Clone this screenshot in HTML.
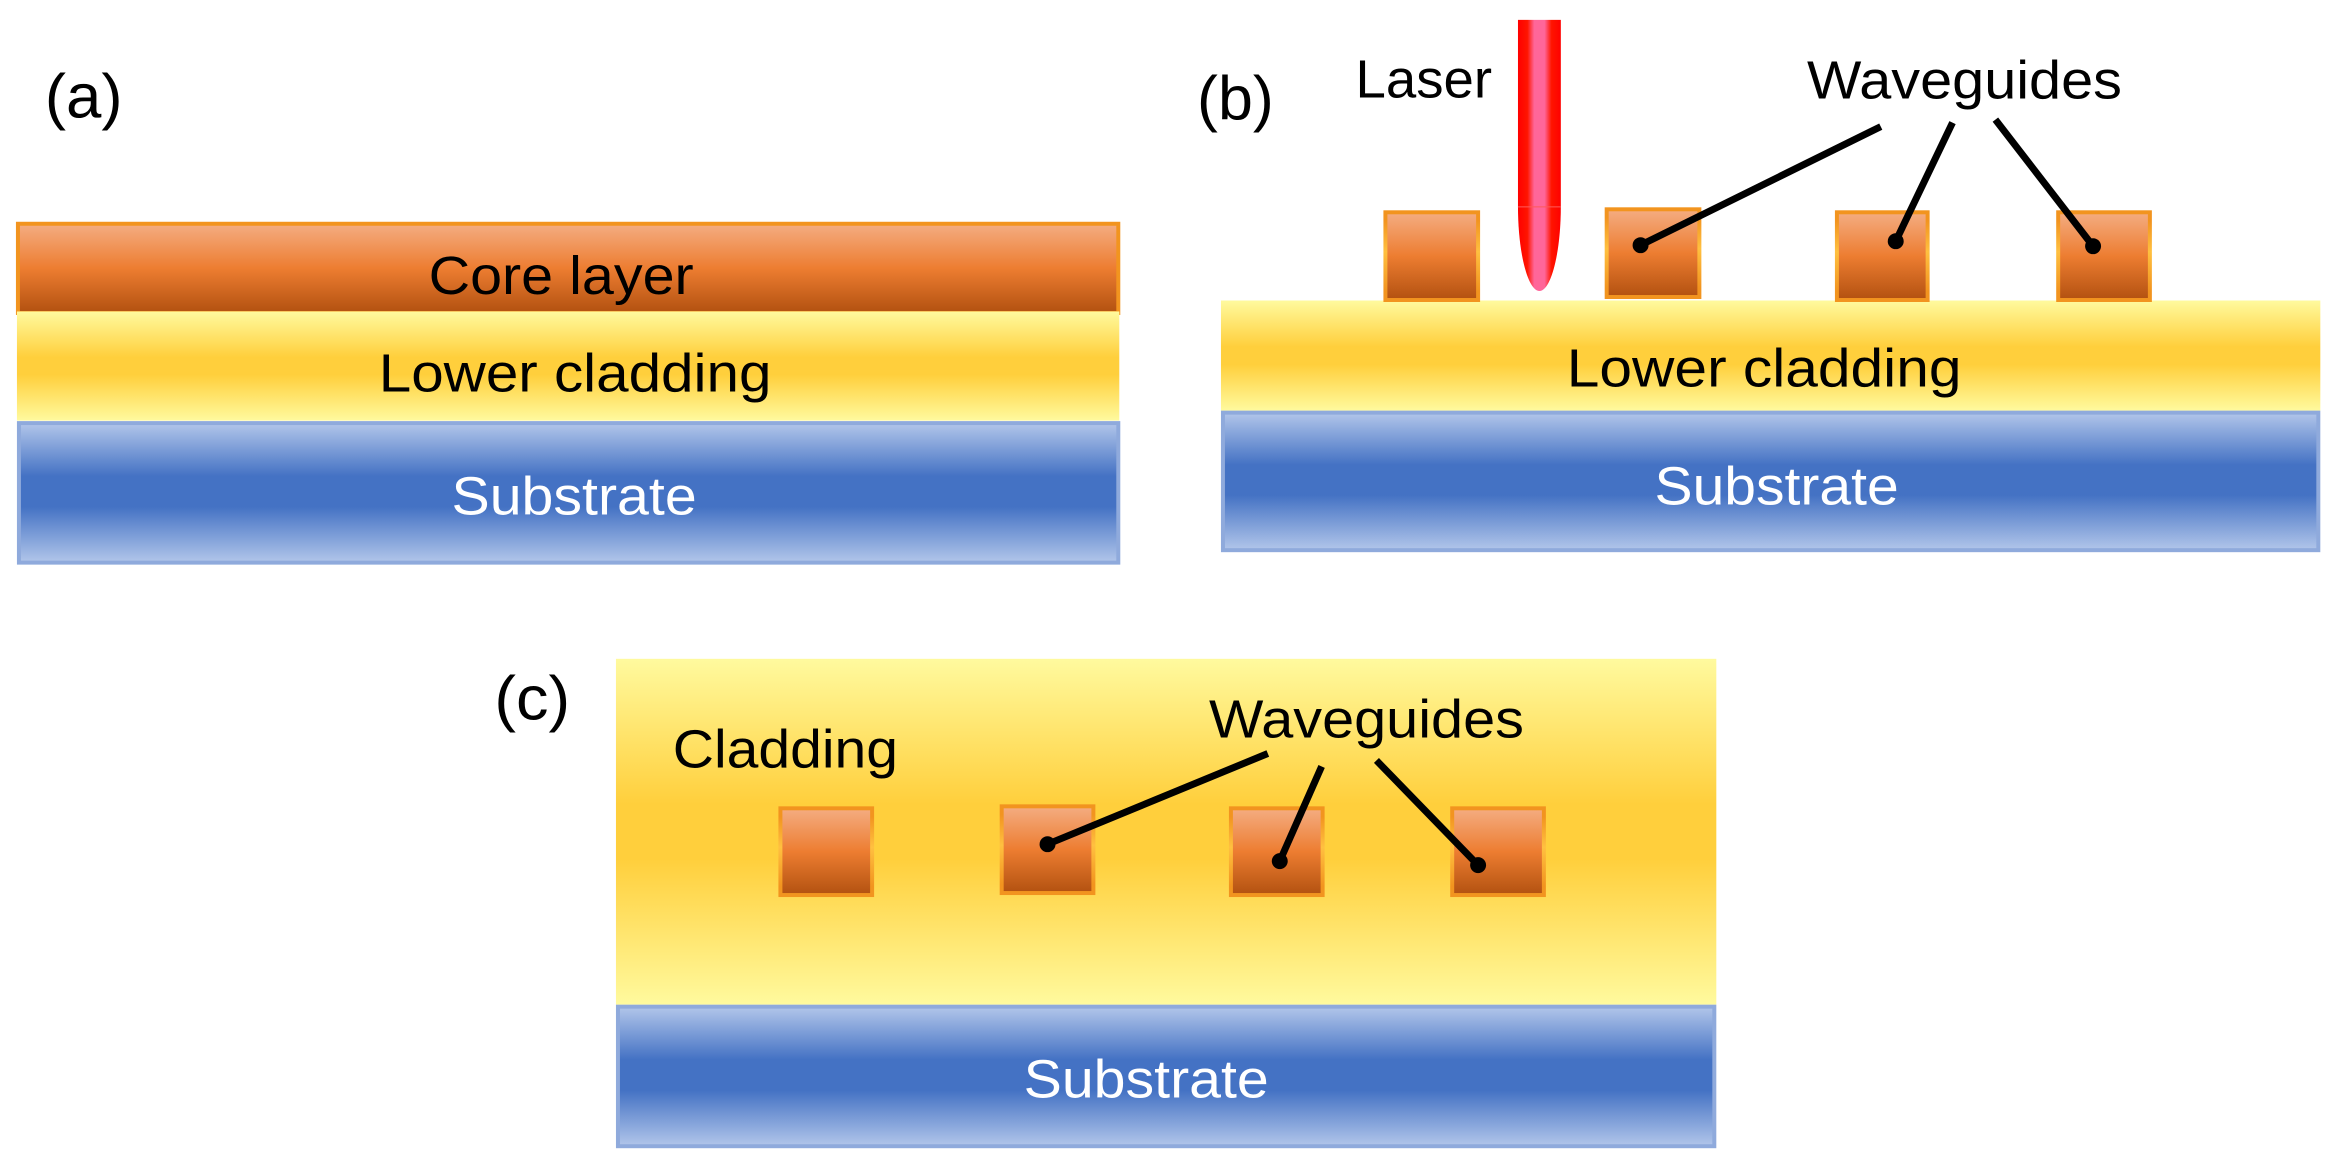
<!DOCTYPE html>
<html><head><meta charset="utf-8"><style>html,body{margin:0;padding:0;background:#fff}svg{display:block}text{font-family:"Liberation Sans",sans-serif;font-size:54px;fill:#000}</style></head>
<body>
<svg xmlns="http://www.w3.org/2000/svg" width="2344" height="1172" viewBox="0 0 2344 1172">
<defs>
<linearGradient id="o" x1="0" y1="0" x2="0" y2="1"><stop offset="0" stop-color="#f4ad82"/><stop offset=".5" stop-color="#ed7d31"/><stop offset="1" stop-color="#b25110"/></linearGradient>
<linearGradient id="ob" x1="0" y1="0" x2="0" y2="1"><stop offset="0" stop-color="#f2941f"/><stop offset=".1" stop-color="#f2941f"/><stop offset=".45" stop-color="#ffc040"/><stop offset=".9" stop-color="#f2941f"/><stop offset="1" stop-color="#f2941f"/></linearGradient>
<linearGradient id="y" x1="0" y1="0" x2="0" y2="1"><stop offset="0" stop-color="#fffa9e"/><stop offset=".42" stop-color="#ffcf3c"/><stop offset=".58" stop-color="#ffcf3c"/><stop offset="1" stop-color="#fffa9e"/></linearGradient>
<linearGradient id="b" x1="0" y1="0" x2="0" y2="1"><stop offset="0" stop-color="#b2c6ea"/><stop offset=".38" stop-color="#4472c4"/><stop offset=".6" stop-color="#4472c4"/><stop offset="1" stop-color="#b2c6ea"/></linearGradient>
<linearGradient id="l" x1="0" y1="0" x2="1" y2="0"><stop offset="0" stop-color="#ff0000"/><stop offset=".22" stop-color="#ff1500"/><stop offset=".38" stop-color="#ff6699"/><stop offset=".62" stop-color="#ff6699"/><stop offset=".78" stop-color="#ff1500"/><stop offset="1" stop-color="#ff0000"/></linearGradient>
</defs>
<g transform="scale(0.9967)">
<!-- (a) -->
<rect x="18" y="224.500" width="1104" height="89.500" fill="url(#o)" stroke="#f2941f" stroke-width="4"/>
<rect x="17" y="312.500" width="1106" height="109.500" fill="url(#y)"/>
<rect x="19" y="424.500" width="1103" height="140" fill="url(#b)" stroke="#8faadc" stroke-width="4"/>
<text x="430" y="295" textLength="266" lengthAdjust="spacingAndGlyphs">Core layer</text>
<text x="380" y="393" textLength="394" lengthAdjust="spacingAndGlyphs">Lower cladding</text>
<text x="453" y="516" textLength="246" lengthAdjust="spacingAndGlyphs" style="fill:#fff">Substrate</text>
<text x="45" y="118" textLength="78" lengthAdjust="spacingAndGlyphs" style="font-size:62px">(a)</text>

<!-- (b) -->
<rect x="1225" y="301.500" width="1103" height="110.500" fill="url(#y)"/>
<rect x="1227" y="414" width="1099" height="138" fill="url(#b)" stroke="#8faadc" stroke-width="4"/>
<text x="1572" y="388" textLength="396" lengthAdjust="spacingAndGlyphs">Lower cladding</text>
<text x="1660" y="506" textLength="245" lengthAdjust="spacingAndGlyphs" style="fill:#fff">Substrate</text>
<text x="1201" y="120" textLength="77" lengthAdjust="spacingAndGlyphs" style="font-size:62px">(b)</text>
<text x="1360" y="98" textLength="137" lengthAdjust="spacingAndGlyphs">Laser</text>
<text x="1813" y="99" textLength="316" lengthAdjust="spacingAndGlyphs">Waveguides</text>
<path d="M1523 20H1566V207C1566 254 1556 292 1544.500 292C1533 292 1523 254 1523 207Z" fill="url(#l)"/>
<path d="M1523 207.500H1566" stroke="#ff5a5a" stroke-width="1" fill="none"/>
<g fill="url(#o)" stroke="url(#ob)" stroke-width="4">
<rect x="1390" y="213" width="93" height="88"/>
<rect x="1612" y="210" width="93" height="88"/>
<rect x="1843" y="213" width="91" height="88"/>
<rect x="2065" y="213" width="92" height="88"/>
</g>
<g stroke="#000" stroke-width="7" fill="none">
<path d="M1646 246L1887 127"/><path d="M1902 242L1959 123"/><path d="M2100 247L2002 120"/>
</g>
<g fill="#000"><circle cx="1646" cy="246" r="8"/><circle cx="1902" cy="242" r="8"/><circle cx="2100" cy="247" r="8"/></g>

<!-- (c) -->
<rect x="618" y="661" width="1104" height="347" fill="url(#y)"/>
<rect x="620" y="1010" width="1100" height="140" fill="url(#b)" stroke="#8faadc" stroke-width="4"/>
<text x="1027" y="1101" textLength="246" lengthAdjust="spacingAndGlyphs" style="fill:#fff">Substrate</text>
<text x="496" y="722" textLength="76" lengthAdjust="spacingAndGlyphs" style="font-size:62px">(c)</text>
<text x="675" y="770" textLength="226" lengthAdjust="spacingAndGlyphs">Cladding</text>
<text x="1213" y="740" textLength="316" lengthAdjust="spacingAndGlyphs">Waveguides</text>
<g fill="url(#o)" stroke="url(#ob)" stroke-width="4">
<rect x="783" y="811" width="92" height="87"/>
<rect x="1005" y="809" width="92" height="87"/>
<rect x="1235" y="811" width="92" height="87"/>
<rect x="1457" y="811" width="92" height="87"/>
</g>
<g stroke="#000" stroke-width="7" fill="none">
<path d="M1051 847L1272 756"/><path d="M1284 864L1326 769"/><path d="M1483 868L1381 763"/>
</g>
<g fill="#000"><circle cx="1051" cy="847" r="8"/><circle cx="1284" cy="864" r="8"/><circle cx="1483" cy="868" r="8"/></g>
</g>
</svg>
</body></html>
